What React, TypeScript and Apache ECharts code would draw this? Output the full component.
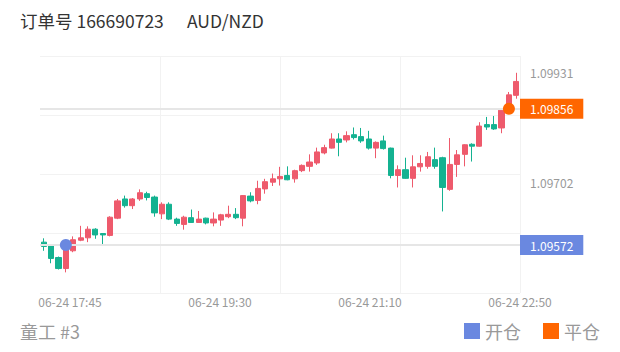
import React, { useEffect, useRef } from "react";
import * as echarts from "echarts";

const FONT = "'Noto Sans CJK SC', 'Noto Sans', sans-serif";

const times = [
  "17:25", "17:30", "17:35", "17:40", "17:45", "17:50", "17:55", "18:00", "18:05", "18:10",
  "18:15", "18:20", "18:25", "18:35", "18:40", "18:45", "18:50", "18:55", "19:00", "19:05",
  "19:10", "19:15", "19:20", "19:25", "19:30", "19:35", "19:40", "19:45", "19:50", "19:55",
  "20:00", "20:05", "20:10", "20:15", "20:20", "20:25", "20:30", "20:35", "20:40", "20:45",
  "20:50", "20:55", "21:00", "21:05", "21:10", "21:15", "21:20", "21:25", "21:30", "21:35",
  "21:40", "21:45", "21:50", "21:55", "22:00", "22:05", "22:10", "22:15", "22:20", "22:25",
  "22:30", "22:35", "22:40", "22:45", "22:50",
].map((t) => "06-24 " + t);

const opens = [
  1.09578, 1.09571, 1.09546, 1.09523, 1.0956, 1.09582, 1.09587, 1.09605, 1.09596, 1.09592,
  1.09628, 1.09668, 1.09654, 1.09668, 1.09679, 1.09672, 1.09637, 1.09657, 1.09626, 1.09615,
  1.09629, 1.09619, 1.09628, 1.09618, 1.09624, 1.09631, 1.09636, 1.09628, 1.09674, 1.09665,
  1.09689, 1.09703, 1.0971, 1.09717, 1.0971, 1.09727, 1.09736, 1.09743, 1.09764, 1.09774,
  1.09793, 1.09791, 1.09802, 1.09798, 1.09793, 1.09774, 1.09789, 1.09774, 1.09717, 1.09729,
  1.09711, 1.09735, 1.09736, 1.0975, 1.09754, 1.09688, 1.0974, 1.09761, 1.09782, 1.09778,
  1.09823, 1.09823, 1.09816, 1.09856, 1.09884,
];
const closes = [
  1.09569, 1.09544, 1.09523, 1.09564, 1.09583, 1.09587, 1.09605, 1.09593, 1.09593, 1.0963,
  1.09664, 1.09654, 1.09668, 1.09681, 1.09671, 1.09639, 1.09657, 1.09626, 1.09617, 1.0963,
  1.09619, 1.09626, 1.09618, 1.09626, 1.09635, 1.09636, 1.09629, 1.09675, 1.09664, 1.0969,
  1.09704, 1.0971, 1.09715, 1.09708, 1.09727, 1.09738, 1.09745, 1.09766, 1.09775, 1.09793,
  1.09786, 1.098, 1.09796, 1.09789, 1.09774, 1.09786, 1.09773, 1.09717, 1.09729, 1.09711,
  1.09735, 1.09742, 1.09756, 1.09736, 1.09692, 1.0974, 1.0976, 1.09781, 1.09778, 1.0982,
  1.09818, 1.09814, 1.09853, 1.09885, 1.09913,
];
const lows = [
  1.0956, 1.09534, 1.09521, 1.09515, 1.09557, 1.0958, 1.09578, 1.09585, 1.09573, 1.0959,
  1.09626, 1.0965, 1.09647, 1.09664, 1.09665, 1.09631, 1.09626, 1.09624, 1.09612, 1.09604,
  1.09618, 1.09618, 1.09615, 1.09611, 1.09612, 1.09628, 1.09626, 1.09611, 1.09661, 1.09657,
  1.09679, 1.09695, 1.09696, 1.09707, 1.09702, 1.09724, 1.09725, 1.09739, 1.09761, 1.09773,
  1.09757, 1.09786, 1.09792, 1.09785, 1.09771, 1.09753, 1.09771, 1.09711, 1.09692, 1.0971,
  1.09692, 1.09725, 1.09731, 1.09731, 1.09642, 1.09685, 1.09714, 1.09736, 1.09746, 1.09777,
  1.09812, 1.09812, 1.09805, 1.09853, 1.09877,
];
const highs = [
  1.09586, 1.09573, 1.09548, 1.09566, 1.0959, 1.09612, 1.09611, 1.09607, 1.09597, 1.09632,
  1.09668, 1.09675, 1.0967, 1.09688, 1.09683, 1.09675, 1.09661, 1.09661, 1.09629, 1.09633,
  1.09646, 1.09643, 1.09629, 1.0964, 1.09637, 1.09654, 1.09649, 1.09676, 1.09682, 1.09706,
  1.0971, 1.09721, 1.09735, 1.09736, 1.09729, 1.0974, 1.09761, 1.09775, 1.09781, 1.09805,
  1.09805, 1.09809, 1.09817, 1.09816, 1.0981, 1.09788, 1.098, 1.09775, 1.09738, 1.09754,
  1.09759, 1.09759, 1.09766, 1.09775, 1.09756, 1.09795, 1.0977, 1.09782, 1.09784, 1.09828,
  1.09839, 1.09841, 1.09857, 1.09891, 1.09931,
];

const yMin = 1.09472;
const yMax = 1.09966;
const yLabelValues = [1.09702, 1.09931];
const ySplitValues = [1.09472, 1.095955, 1.09719, 1.098425, 1.09966];

const openIndex = 3;
const openPrice = 1.09572;
const closeIndex = 63;
const closePrice = 1.09856;

const RED = "#ee5a6c";
const GREEN = "#14b291";
const BLUE = "#6a88e0";
const ORANGE = "#ff6600";

export default function App() {
  const ref = useRef<HTMLDivElement>(null);
  useEffect(() => {
    if (!ref.current) return;
    const chart = echarts.init(ref.current, undefined, { renderer: "svg" });
    const candles = opens.map((o, i) => [o, closes[i], lows[i], highs[i]]);
    chart.setOption({
      animation: false,
      backgroundColor: "#fff",
      textStyle: { fontFamily: FONT },
      title: [
        {
          text: "订单号 166690723",
          left: 20,
          top: 12,
          padding: 0,
          textStyle: { fontSize: 17.5, color: "#333", fontWeight: "normal", fontFamily: FONT },
        },
        {
          text: "AUD/NZD",
          left: 187,
          top: 12,
          padding: 0,
          textStyle: { fontSize: 17.5, color: "#333", fontWeight: "normal", fontFamily: FONT },
        },
        {
          text: "童工 #3",
          left: 20,
          top: 322,
          padding: 0,
          textStyle: { fontSize: 18, color: "#999", fontWeight: "normal", fontFamily: FONT },
        },
      ],
      legend: {
        data: ["开仓", "平仓"],
        icon: "rect",
        right: 20,
        top: 322,
        padding: 0,
        itemWidth: 16,
        itemHeight: 16,
        itemGap: 22,
        selectedMode: false,
        itemStyle: { borderWidth: 0, opacity: 1 },
        textStyle: { fontSize: 18, color: "#999", fontFamily: FONT },
      },
      grid: { left: 40, right: 100, top: 56, bottom: 59 },
      xAxis: [
        { type: "category", data: times, boundaryGap: true, show: false },
        {
          type: "category",
          data: times,
          boundaryGap: false,
          position: "bottom",
          axisLine: { show: false },
          axisTick: { show: false },
          axisLabel: {
            interval: (i: number) => i % 20 === 4,
            color: "#999",
            fontSize: 12,
            margin: 2,
            fontFamily: FONT,
          },
          splitLine: {
            show: true,
            interval: (i: number) => i % 16 === 0,
            showMinLine: false,
            lineStyle: { color: "#f2f2f2", width: 1 },
          },
        },
      ],
      yAxis: {
        type: "value",
        position: "right",
        min: yMin,
        max: yMax,
        scale: true,
        axisLine: { show: false },
        axisTick: { show: false, customValues: ySplitValues },
        axisLabel: {
          customValues: yLabelValues,
          color: "#999",
          fontSize: 12,
          margin: 10,
          formatter: (v: number) => v.toFixed(5),
          fontFamily: FONT,
        },
        splitLine: { show: true, lineStyle: { color: "#f2f2f2", width: 1 } },
      },
      series: [
        {
          type: "candlestick",
          xAxisIndex: 0,
          data: candles,
          barWidth: "76%",
          itemStyle: {
            color: RED,
            color0: GREEN,
            borderColor: RED,
            borderColor0: GREEN,
            borderWidth: 1,
          },
          markLine: {
            silent: true,
            symbol: ["none", "none"],
            precision: 5,
            lineStyle: { color: "#e6e6e6", width: 2, type: "solid" },
            label: {
              show: true,
              position: "end",
              distance: 0,
              color: "#fff",
              fontSize: 12,
              lineHeight: 14,
              padding: [3, 10, 3, 10],
              fontFamily: FONT,
              formatter: (p: any) => Number(p.value).toFixed(5),
            },
            data: [
              { yAxis: closePrice, label: { backgroundColor: ORANGE } },
              { yAxis: openPrice, label: { backgroundColor: BLUE } },
            ],
          },
          z: 2,
        },
        {
          name: "开仓",
          type: "scatter",
          xAxisIndex: 0,
          symbolSize: 12,
          itemStyle: { color: BLUE, opacity: 1 },
          data: [[times[openIndex], openPrice]],
          z: 5,
        },
        {
          name: "平仓",
          type: "scatter",
          xAxisIndex: 0,
          symbolSize: 12,
          itemStyle: { color: ORANGE, opacity: 1 },
          data: [[times[closeIndex], closePrice]],
          z: 5,
        },
      ],
    });
    return () => chart.dispose();
  }, []);
  return (
    <div
      ref={ref}
      style={{ position: "fixed", left: 0, top: 0, width: 620, height: 352, background: "#fff" }}
    />
  );
}
